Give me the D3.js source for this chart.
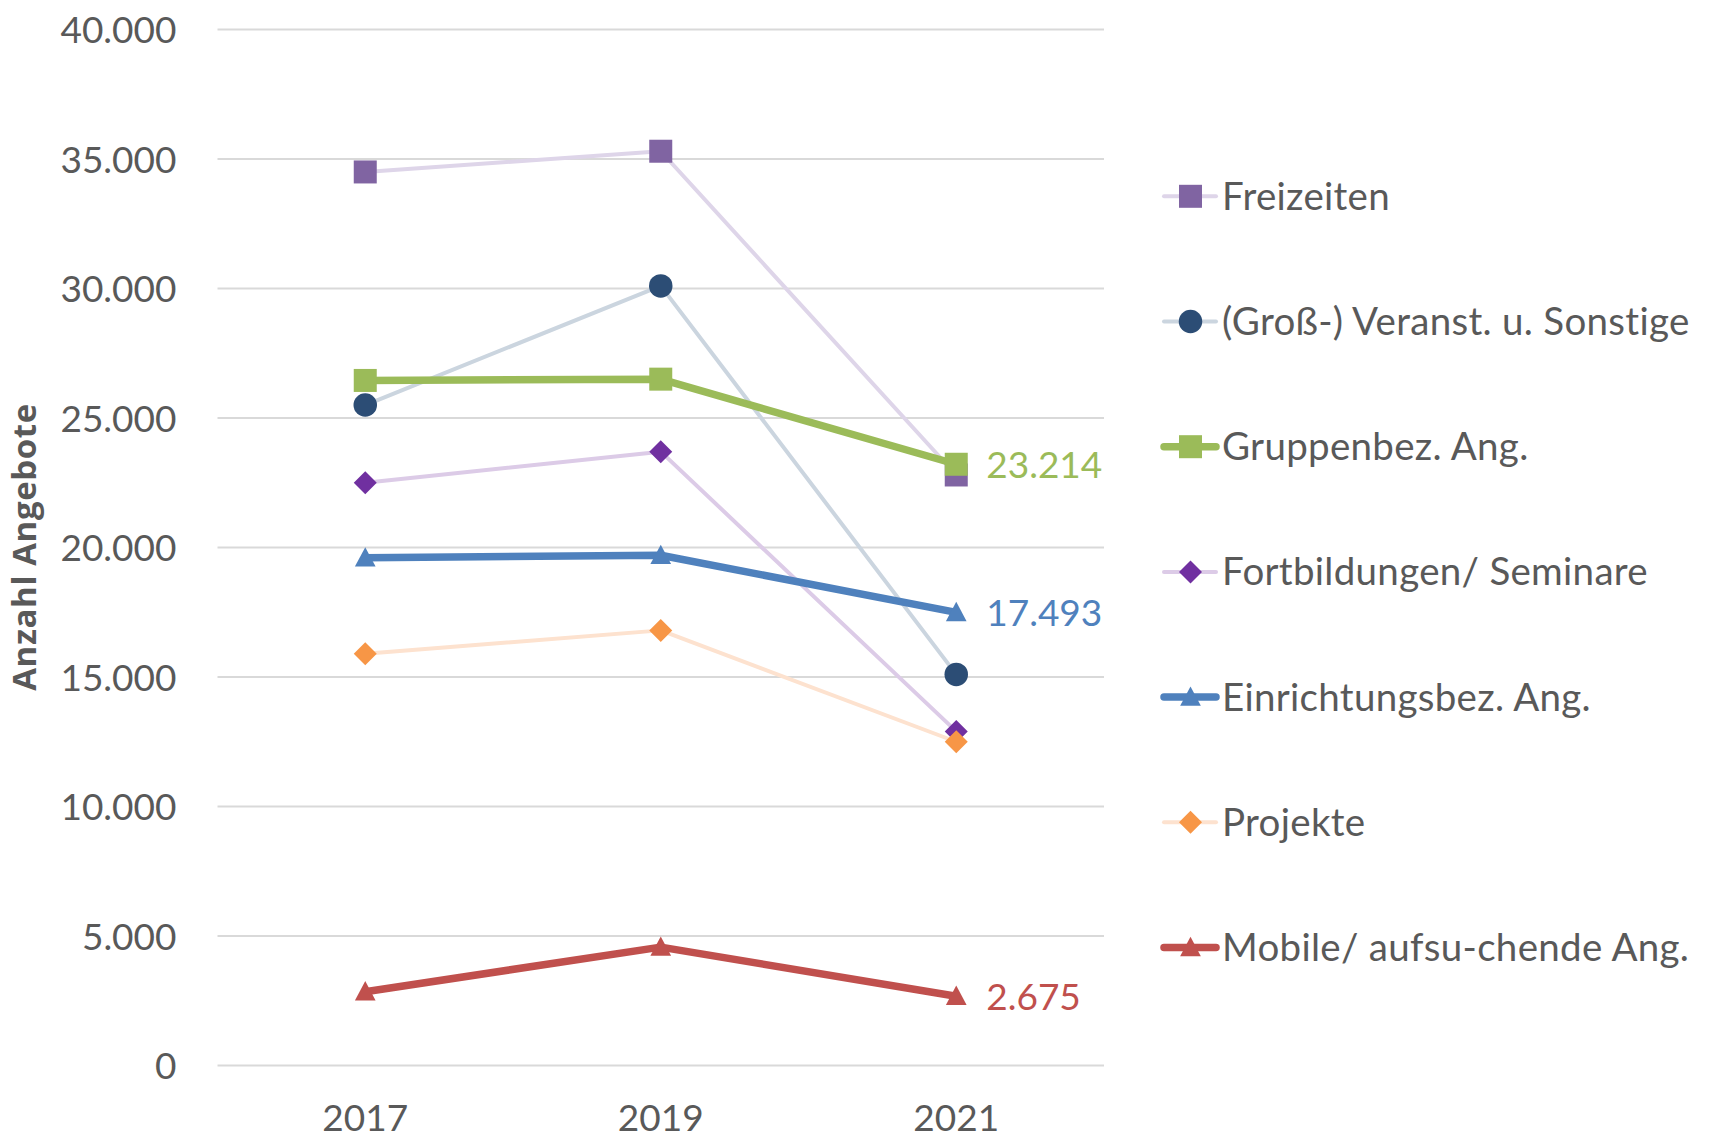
<!DOCTYPE html>
<html>
<head>
<meta charset="utf-8">
<script src="https://cdn.jsdelivr.net/npm/d3@7"></script>
<style>
  html, body { margin: 0; padding: 0; background: #fff; }
  svg { display: block; font-family: Lato, "Open Sans", sans-serif; }
</style>
</head>
<body>
<svg id="chart" width="1710" height="1139"></svg>
<script>
// ---------- data ----------
const years = ["2017", "2019", "2021"];
const yTicks = [0, 5000, 10000, 15000, 20000, 25000, 30000, 35000, 40000];
const seriesNames = [
  "Freizeiten",
  "(Groß-) Veranst. u. Sonstige",
  "Gruppenbez. Ang.",
  "Fortbildungen/ Seminare",
  "Einrichtungsbez. Ang.",
  "Projekte",
  "Mobile/ aufsu-chende Ang."
];
const freizeiten      = [34500, 35300, 22800];
const grossVeranst    = [25500, 30100, 15100];
const gruppenbez      = [26450, 26500, 23214];
const fortbildungen   = [22500, 23700, 12900];
const einrichtungsbez = [19600, 19700, 17493];
const projekte        = [15900, 16800, 12500];
const mobile          = [2850, 4570, 2675];
const seriesValues = [freizeiten, grossVeranst, gruppenbez, fortbildungen, einrichtungsbez, projekte, mobile];
const labelledSeries = [2, 4, 6];

// ---------- styles ----------
const markerColors = ["#8064A2", "#2C4D75", "#9BBB59", "#7030A0", "#4F81BD", "#F79646", "#C0504D"];
const lineColors   = ["#DED5E9", "#CBD5DF", "#9BBB59", "#DCCBE7", "#4F81BD", "#FDE2CF", "#C0504D"];
const lineWidths   = [4, 4, 7.5, 4, 7.5, 4, 7.5];
const markerTypes  = ["square", "circle", "square", "diamond", "triangle", "diamond", "triangle"];
const textColor = "#595959";

const svg = d3.select("#chart");
const plot = { left: 217.5, right: 1104, top: 29.5, bottom: 1065.5 };

const x = d3.scaleBand().domain(years).range([plot.left, plot.right]);
const cx = d => x(d) + x.bandwidth() / 2;
const y = d3.scaleLinear().domain([0, 40000]).range([plot.bottom, plot.top]);

const de = d3.formatLocale({ decimal: ",", thousands: ".", grouping: [3], currency: ["", " €"] });
const fmt = de.format(",d");

// gridlines
svg.append("g").selectAll("line").data(yTicks).join("line")
  .attr("x1", plot.left).attr("x2", plot.right)
  .attr("y1", d => y(d)).attr("y2", d => y(d))
  .attr("stroke", "#D9D9D9").attr("stroke-width", 2);

// y axis
const yAxis = svg.append("g").attr("transform", `translate(${plot.left},0)`)
  .call(d3.axisLeft(y).tickValues(yTicks).tickFormat(fmt).tickSize(0).tickPadding(41));
yAxis.select(".domain").remove();
yAxis.selectAll("text").attr("font-size", 37).attr("fill", textColor)
  .attr("font-family", "Lato, sans-serif").attr("dy", "0.36em");

// x axis
const xAxis = svg.append("g").attr("transform", `translate(0,${plot.bottom})`)
  .call(d3.axisBottom(x).tickSize(0).tickPadding(0));
xAxis.select(".domain").remove();
xAxis.selectAll("text").attr("font-size", 37).attr("fill", textColor)
  .attr("font-family", "Lato, sans-serif").attr("dy", null).attr("y", 65.5);

// y title
svg.append("text")
  .attr("transform", "translate(36,547) rotate(-90)")
  .attr("text-anchor", "middle")
  .attr("font-family", "'Open Sans', sans-serif")
  .attr("font-size", 33).attr("font-weight", "bold").attr("fill", textColor)
  .attr("letter-spacing", 0.6)
  .text("Anzahl Angebote");

// marker drawing
function marker(sel, type, color, size) {
  const s = size;
  if (type === "square") {
    sel.append("rect").attr("x", -s / 2).attr("y", -s / 2).attr("width", s).attr("height", s).attr("fill", color);
  } else if (type === "circle") {
    sel.append("circle").attr("r", s / 2).attr("fill", color);
  } else if (type === "diamond") {
    const h = s / 2;
    sel.append("path").attr("d", `M0,${-h}L${h},0L0,${h}L${-h},0Z`).attr("fill", color);
  } else if (type === "triangle") {
    const w = s * 0.92, h = s * 0.86;
    sel.append("path").attr("d", `M0,${-h * 0.55}L${w / 2},${h * 0.45}L${-w / 2},${h * 0.45}Z`).attr("fill", color);
  }
}
const markerSizes = { square: 23, circle: 23.5, diamond: 23, triangle: 22.5 };

const line = d3.line().x((d, i) => cx(years[i])).y(d => y(d));

seriesValues.forEach((vals, si) => {
  const g = svg.append("g");
  g.append("path").attr("d", line(vals)).attr("fill", "none")
    .attr("stroke", lineColors[si]).attr("stroke-width", lineWidths[si])
    .attr("stroke-linejoin", "round").attr("stroke-linecap", "round");
  vals.forEach((v, i) => {
    const m = g.append("g").attr("transform", `translate(${cx(years[i])},${y(v)})`);
    marker(m, markerTypes[si], markerColors[si], markerSizes[markerTypes[si]]);
  });
});

// data labels
labelledSeries.forEach(si => {
  const vals = seriesValues[si];
  const last = vals.length - 1;
  svg.append("text")
    .attr("x", cx(years[last]) + 30).attr("y", y(vals[last])).attr("dy", "0.36em")
    .attr("font-size", 37).attr("fill", markerColors[si])
    .text(fmt(vals[last]));
});

// legend
const legend = svg.append("g");
seriesNames.forEach((name, si) => {
  const ly = 196.3 + si * 125.2;
  const g = legend.append("g").attr("transform", `translate(0,${ly})`);
  g.append("line").attr("x1", 1164).attr("x2", 1216).attr("y1", 0).attr("y2", 0)
    .attr("stroke", lineColors[si]).attr("stroke-width", lineWidths[si])
    .attr("stroke-linecap", "round");
  const m = g.append("g").attr("transform", "translate(1190.5,0)");
  marker(m, markerTypes[si], markerColors[si], markerSizes[markerTypes[si]]);
  g.append("text").attr("x", 1222).attr("y", 0).attr("dy", "0.35em")
    .attr("font-size", 38.5).attr("letter-spacing", 0.3).attr("fill", textColor).text(name);
});
</script>
</body>
</html>
